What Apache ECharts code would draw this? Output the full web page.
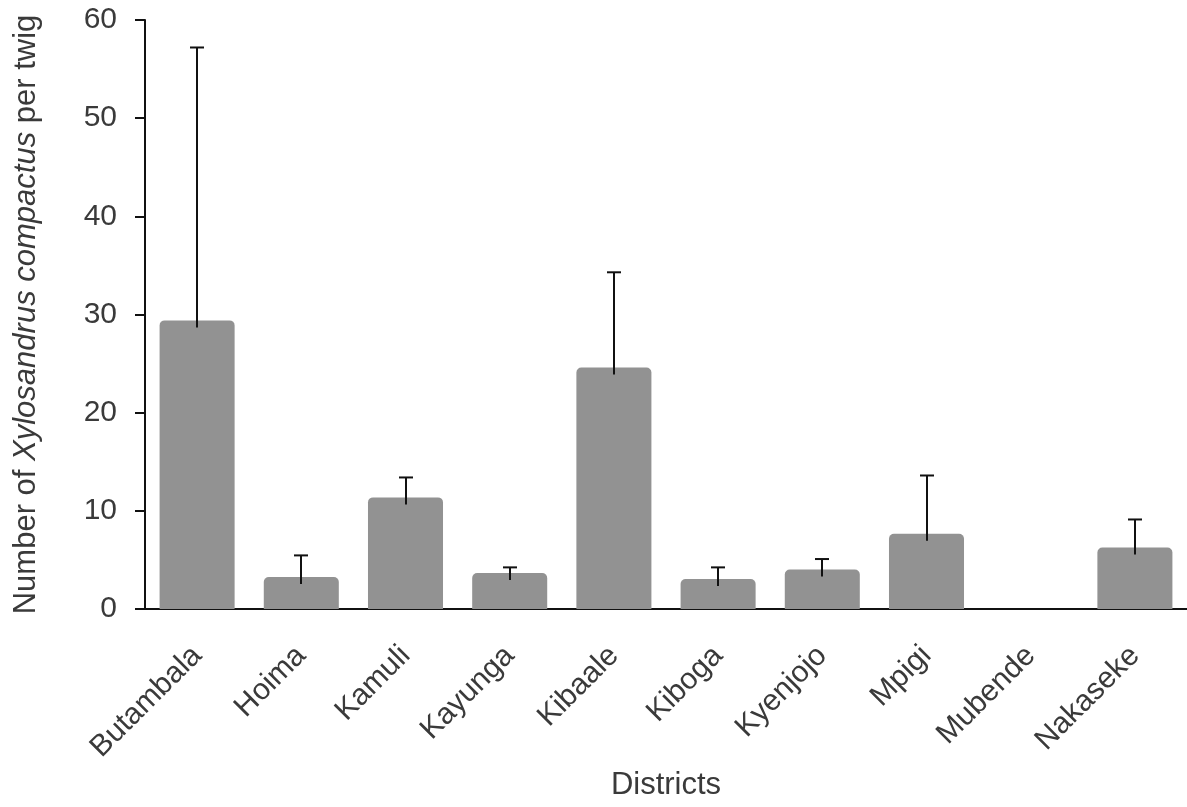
<!DOCTYPE html>
<html>
<head>
<meta charset="utf-8">
<script src="https://cdn.jsdelivr.net/npm/echarts@6/dist/echarts.min.js"></script>
<style>
html,body{margin:0;padding:0;background:#fff;overflow:hidden;}
#chart{width:1187px;height:807px;}
</style>
</head>
<body>
<div id="chart"></div>
<script>
const districts = ['Butambala','Hoima','Kamuli','Kayunga','Kibaale','Kiboga','Kyenjojo','Mpigi','Mubende','Nakaseke'];
const meanValues = [29.4, 3.26, 11.37, 3.67, 24.6, 3.05, 4.03, 7.67, 0, 6.27];
const upperValues = [57.2, 5.46, 13.4, 4.24, 34.3, 4.24, 5.09, 13.6, 0, 9.12];
const yTicks = [0, 10, 20, 30, 40, 50, 60];

const chart = echarts.init(document.getElementById('chart'), null, {renderer:'canvas', width:1187, height:807});
const font = 'Liberation Sans, Arial, sans-serif';
const textColor = '#3a3a3a';

chart.setOption({
  animation: false,
  backgroundColor: '#fff',
  grid: {left: 145, width: 1042, top: 20, height: 589, containLabel: false, outerBoundsMode: 'none'},
  xAxis: {
    type: 'category',
    data: districts,
    name: 'Districts',
    nameLocation: 'middle',
    nameGap: 159,
    nameTextStyle: {fontFamily: font, fontSize: 31, color: textColor},
    axisLine: {lineStyle: {color: '#111', width: 2}},
    axisTick: {show: false},
    axisLabel: {rotate: 45, fontFamily: font, fontSize: 30, color: textColor, margin: 42, interval: 0}
  },
  yAxis: {
    type: 'value',
    min: yTicks[0],
    max: yTicks[yTicks.length-1],
    interval: 10,
    name: '{n|Number of }{i|Xylosandrus compactus}{n| per twig}',
    nameLocation: 'middle',
    nameRotate: 90,
    nameGap: 103,
    nameTextStyle: {
      fontFamily: font, fontSize: 31, color: textColor,
      rich: {
        n: {fontFamily: font, fontSize: 31, color: textColor},
        i: {fontFamily: font, fontSize: 31, color: textColor, fontStyle: 'italic'}
      }
    },
    axisLine: {show: true, lineStyle: {color: '#111', width: 2}},
    axisTick: {show: true, inside: false, length: 10, lineStyle: {color: '#111', width: 2}},
    axisLabel: {fontFamily: font, fontSize: 30, color: textColor, margin: 28},
    splitLine: {show: false}
  },
  series: [
    {
      type: 'bar',
      data: meanValues,
      barWidth: '72%',
      itemStyle: {color: '#929292', borderRadius: [5,5,0,0]},
      z: 2
    },
    {
      type: 'custom',
      z: 3,
      data: districts.map((d, i) => [i, meanValues[i], upperValues[i]]),
      renderItem: function (params, api) {
        const i = api.value(0);
        const mean = api.value(1);
        const up = api.value(2);
        if (up <= mean) return null;
        const base = api.coord([i, mean]);
        const top = api.coord([i, up]);
        const x = Math.round(base[0]);
        const capHalf = 7;
        const style = {stroke: '#111', lineWidth: 2};
        return {
          type: 'group',
          children: [
            {type: 'line', shape: {x1: x, y1: base[1] + 7, x2: x, y2: top[1]}, style: style},
            {type: 'line', shape: {x1: x - capHalf, y1: top[1], x2: x + capHalf, y2: top[1]}, style: style}
          ]
        };
      }
    }
  ]
});
</script>
</body>
</html>
